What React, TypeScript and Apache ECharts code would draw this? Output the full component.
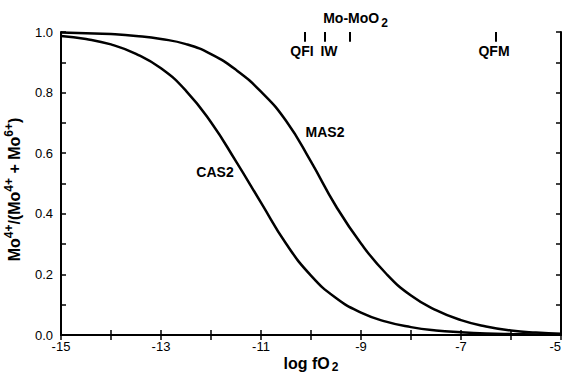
import React, { useEffect, useRef } from "react";
import * as echarts from "echarts";

const logFO2 = [-15, -14.5, -14, -13.5, -13, -12.5, -12, -11.5, -11, -10.5, -10, -9.5, -9, -8.5, -8, -7.5, -7, -6.5, -6, -5.5, -5];
const cas2 = [0.987, 0.977, 0.959, 0.928, 0.88, 0.806, 0.702, 0.573, 0.437, 0.302, 0.196, 0.122, 0.074, 0.044, 0.026, 0.015, 0.009, 0.005, 0.003, 0.002, 0.001];
const mas2 = [0.998, 0.996, 0.993, 0.987, 0.977, 0.96, 0.927, 0.875, 0.803, 0.707, 0.572, 0.425, 0.302, 0.203, 0.13, 0.082, 0.049, 0.028, 0.015, 0.008, 0.004];

const bufferNames = ["QFI", "IW", "QFM"];
const bufferValues = [-10.12, -9.72, -6.3];
const bufferLabelShift = [-3, 4, -2];
const moBufferValue = -9.23;

const curveLabels = ["CAS2", "MAS2"];
const curveLabelPos = [
  [-11.92, 0.538],
  [-9.72, 0.67],
];

const FONT = "'Liberation Sans', Arial, Helvetica, sans-serif";

export default function App() {
  const ref = useRef<HTMLDivElement>(null);
  useEffect(() => {
    if (!ref.current) return;
    const chart = echarts.init(ref.current, null, { renderer: "svg" });
    const axisLine = { show: true, lineStyle: { color: "#000", width: 2 } };
    const tickStyle = { show: true, inside: true, length: 5, lineStyle: { color: "#000", width: 1.5 } };
    const tickLen = 0.032;
    const option = {
      animation: false,
      backgroundColor: "#fff",
      textStyle: { fontFamily: FONT, color: "#000" },
      grid: { left: 61, right: 3, top: 32, bottom: 39, containLabel: false, outerBoundsMode: "none" },
      xAxis: [
        {
          type: "value",
          position: "bottom",
          min: -15,
          max: -5,
          interval: 1,
          axisLine,
          axisTick: tickStyle,
          splitLine: { show: false },
          axisLabel: {
            color: "#000",
            fontSize: 13,
            fontFamily: FONT,
            margin: 5,
            alignMaxLabel: "right",
            formatter: (v: number) => (Math.round(v) % 2 !== 0 ? String(v) : ""),
          },
          name: "{b|log fO}{s|2}",
          nameLocation: "middle",
          nameMoveOverlap: false,
          nameGap: 20,
          nameTextStyle: {
            rich: {
              b: { fontSize: 16, fontWeight: "bold", fontFamily: FONT, color: "#000", lineHeight: 18, verticalAlign: "top" },
              s: { fontSize: 12, fontWeight: "bold", fontFamily: FONT, color: "#000", lineHeight: 13, verticalAlign: "bottom", padding: [0, 0, 0, 2] },
            },
          },
        },
        {
          type: "value",
          position: "top",
          min: -15,
          max: -5,
          interval: 1,
          axisLine,
          axisTick: tickStyle,
          splitLine: { show: false },
          axisLabel: { show: false },
        },
      ],
      yAxis: [
        {
          type: "value",
          position: "left",
          min: 0,
          max: 1,
          interval: 0.1,
          axisLine,
          axisTick: tickStyle,
          splitLine: { show: false },
          axisLabel: {
            color: "#000",
            fontSize: 13,
            fontFamily: FONT,
            margin: 8,
            formatter: (v: number) => (Math.round(v * 10) % 2 === 0 ? v.toFixed(1) : ""),
          },
          name: "{b|Mo}{s|4+}{b|/(Mo}{s|4+}{b| + Mo}{s|6+}{b|)}",
          nameLocation: "middle",
          nameGap: 39,
          nameTextStyle: {
            padding: [0, 12, 0, 0],
            rich: {
              b: { fontSize: 16, fontWeight: "bold", fontFamily: FONT, color: "#000", lineHeight: 19, verticalAlign: "bottom" },
              s: { fontSize: 12, fontWeight: "bold", fontFamily: FONT, color: "#000", lineHeight: 12, verticalAlign: "top" },
            },
          },
        },
        {
          type: "value",
          position: "right",
          min: 0,
          max: 1,
          interval: 0.1,
          axisLine,
          axisTick: tickStyle,
          splitLine: { show: false },
          axisLabel: { show: false },
        },
      ],
      series: [
        {
          name: "CAS2",
          type: "line",
          smooth: true,
          symbol: "none",
          lineStyle: { color: "#000", width: 2.5 },
          data: logFO2.map((x, i) => [x, cas2[i]]),
          markPoint: {
            symbol: "circle",
            symbolSize: 0,
            label: { show: true, position: "inside", color: "#000", fontSize: 14, fontWeight: "bold", fontFamily: FONT, formatter: "{b}" },
            data: curveLabels.map((n, i) => ({ name: n, coord: curveLabelPos[i] })),
          },
        },
        {
          name: "MAS2",
          type: "line",
          smooth: true,
          symbol: "none",
          lineStyle: { color: "#000", width: 2.5 },
          data: logFO2.map((x, i) => [x, mas2[i]]),
        },
        {
          name: "buffers",
          type: "line",
          data: [],
          markLine: {
            silent: true,
            symbol: "none",
            lineStyle: { color: "#000", width: 2, type: "solid" },
            label: {
              show: true,
              position: "end",
              distance: 2,
              color: "#000",
              fontSize: 14,
              fontWeight: "bold",
              fontFamily: FONT,
              formatter: "{b}",
            },
            data: [
              ...bufferNames.map((n, i) => [
                { name: n, coord: [bufferValues[i], 1], label: { offset: [bufferLabelShift[i], 0] } },
                { coord: [bufferValues[i], 1 - tickLen] },
              ]),
              [
                {
                  name: "Mo-MoO2",
                  coord: [moBufferValue, 1 - tickLen],
                  label: {
                    formatter: "{b|Mo-MoO}{s|2}",
                    distance: 3,
                    offset: [6, 0],
                    rich: {
                      b: { fontSize: 14, fontWeight: "bold", fontFamily: FONT, color: "#000", lineHeight: 18, verticalAlign: "top" },
                      s: { fontSize: 12, fontWeight: "bold", fontFamily: FONT, color: "#000", lineHeight: 12, verticalAlign: "bottom", padding: [0, 0, 0, 2] },
                    },
                  },
                },
                { coord: [moBufferValue, 1] },
              ],
            ],
          },
        },
      ],
    };
    chart.setOption(option as any);
    return () => chart.dispose();
  }, []);
  return <div ref={ref} style={{ position: "fixed", left: 0, top: 0, width: 564, height: 374 }} />;
}
